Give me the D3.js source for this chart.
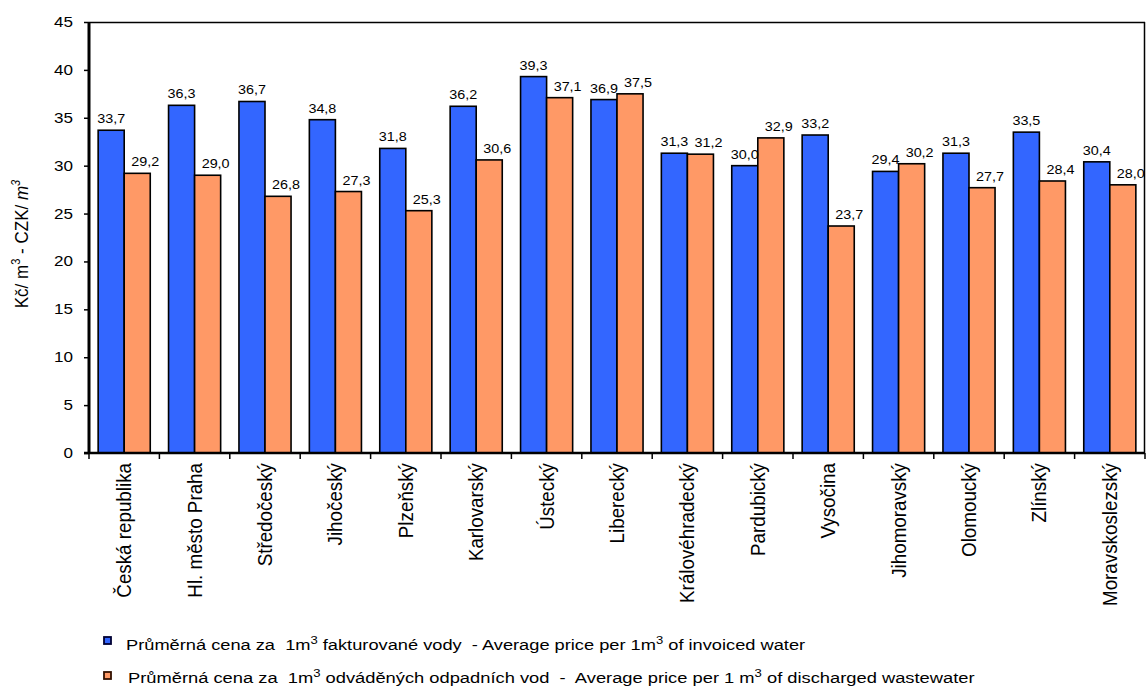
<!DOCTYPE html>
<html>
<head>
<meta charset="utf-8">
<script src="https://cdn.jsdelivr.net/npm/d3@7"></script>
<style>
  html, body { margin: 0; padding: 0; background: #fff; }
  svg { display: block; font-family: "Liberation Sans", Arial, sans-serif; }
  text { white-space: pre; }
</style>
</head>
<body>
<svg id="chart" width="1146" height="686"></svg>
<script>
// ---- data ----
const categories = ["Česká republika", "Hl. město Praha", "Středočeský", "Jihočeský", "Plzeňský",
  "Karlovarský", "Ústecký", "Liberecký", "Královéhradecký", "Pardubický", "Vysočina",
  "Jihomoravský", "Olomoucký", "Zlínský", "Moravskoslezský"];
const invoicedWater = [33.7, 36.3, 36.7, 34.8, 31.8, 36.2, 39.3, 36.9, 31.3, 30.0, 33.2, 29.4, 31.3, 33.5, 30.4];
const wasteWater = [29.2, 29.0, 26.8, 27.3, 25.3, 30.6, 37.1, 37.5, 31.2, 32.9, 23.7, 30.2, 27.7, 28.4, 28.0];
const seriesKeys = ["invoiced", "waste"];
const yTicks = [0, 5, 10, 15, 20, 25, 30, 35, 40, 45];

// ---- layout ----
const L = 89, R = 1145, T = 22, B = 453;
const colors = { invoiced: "#3366FF", waste: "#FF9966" };
const labelShift = { invoiced: 0, waste: 8 };

const svg = d3.select("#chart");
const fmt = d3.formatLocale({ decimal: ",", thousands: " ", grouping: [3], currency: ["", ""] }).format(".1f");

const x = d3.scaleBand().domain(categories).range([L, R]).paddingInner(0.26).paddingOuter(0.13);
const xs = d3.scaleBand().domain(seriesKeys).range([0, x.bandwidth()]);
const y = d3.scaleLinear().domain([0, 45]).range([B, T]);

const data = categories.map((c, i) => ({ cat: c, invoiced: invoicedWater[i], waste: wasteWater[i] }));

// plot frame (top/right thin)
svg.append("line").attr("x1", L).attr("x2", R).attr("y1", T + 0.5).attr("y2", T + 0.5)
  .attr("stroke", "#000").attr("stroke-width", 1.5);
svg.append("line").attr("x1", R - 0.5).attr("x2", R - 0.5).attr("y1", T).attr("y2", B)
  .attr("stroke", "#000").attr("stroke-width", 1.5);

// bars
const groups = svg.append("g").selectAll("g").data(data).join("g")
  .attr("transform", d => `translate(${x(d.cat)},0)`);
groups.selectAll("rect").data(d => seriesKeys.map(k => ({ key: k, value: d[k] }))).join("rect")
  .attr("x", d => xs(d.key))
  .attr("width", xs.bandwidth())
  .attr("y", d => y(d.value))
  .attr("height", d => B - y(d.value))
  .attr("fill", d => colors[d.key])
  .attr("stroke", "#000").attr("stroke-width", 1.6);

// value labels
groups.selectAll("text").data(d => seriesKeys.map(k => ({ key: k, value: d[k] }))).join("text")
  .attr("transform", d => `translate(${xs(d.key) + xs.bandwidth() / 2 + labelShift[d.key]},${y(d.value) - 7}) scale(1.15,1)`)
  .attr("text-anchor", "middle")
  .attr("font-size", 12.5)
  .attr("fill", "#000")
  .text(d => fmt(d.value));

// y axis
const yAxis = svg.append("g").attr("transform", `translate(${L},0)`)
  .call(d3.axisLeft(y).tickValues(yTicks).tickSize(5).tickSizeOuter(0).tickFormat(d3.format("d")));
yAxis.select(".domain").remove();
yAxis.selectAll(".tick line").attr("stroke", "#000").attr("stroke-width", 1.5);
yAxis.selectAll(".tick text")
  .attr("x", 0)
  .attr("transform", "translate(-16,0) scale(1.22,1)")
  .attr("font-size", 14).attr("fill", "#000")
  .attr("font-family", "Liberation Sans, Arial, sans-serif");
svg.append("line").attr("x1", L).attr("x2", L).attr("y1", T).attr("y2", B + 1)
  .attr("stroke", "#000").attr("stroke-width", 3);

// x axis: line, boundary ticks, rotated labels
svg.append("line").attr("x1", L - 5).attr("x2", R).attr("y1", B).attr("y2", B)
  .attr("stroke", "#000").attr("stroke-width", 2.5);
const bounds = d3.range(categories.length + 1).map(i => x.range()[0] + i * x.step());
svg.append("g").selectAll("line").data(bounds).join("line")
  .attr("x1", d => d).attr("x2", d => d).attr("y1", B).attr("y2", B + 6)
  .attr("stroke", "#000").attr("stroke-width", 1.5);
svg.append("g").selectAll("text").data(categories).join("text")
  .attr("transform", d => `translate(${x(d) + x.bandwidth() / 2},463) rotate(-90) scale(0.94,1)`)
  .attr("text-anchor", "end")
  .attr("dy", "0.35em")
  .attr("font-size", 20)
  .attr("fill", "#000")
  .text(d => d);

// y title
const yt = svg.append("text")
  .attr("transform", "translate(28,244) rotate(-90) scale(0.92,1)")
  .attr("text-anchor", "middle").attr("font-size", 18.5).attr("fill", "#000");
yt.append("tspan").text("Kč/ m");
yt.append("tspan").attr("dy", -8).attr("font-size", 12).text("3");
yt.append("tspan").attr("dy", 8).text(" - CZK/ ");
yt.append("tspan").attr("font-style", "italic").text("m");
yt.append("tspan").attr("dy", -8).attr("font-size", 12).attr("font-style", "italic").text("3");

// legend
const legendItems = [
  { key: "invoiced", parts: ["Průměrná cena za  1m", "3", " fakturované vody  - Average price per 1m", "3", " of invoiced water"], tx: 126, by: 650, width: 679, my: 637 },
  { key: "waste", parts: ["Průměrná cena za  1m", "3", " odváděných odpadních vod  -  Average price per 1 m", "3", " of discharged wastewater"], tx: 128, by: 683, width: 847, my: 672 }
];
const lg = svg.append("g");
legendItems.forEach(it => {
  lg.append("rect").attr("x", 104).attr("y", it.my).attr("width", 7).attr("height", 7)
    .attr("fill", colors[it.key]).attr("stroke", it.key === "invoiced" ? "#000033" : "#331100").attr("stroke-width", 1.8);
  const t = lg.append("text").attr("font-size", 15.4).attr("fill", "#000");
  it.parts.forEach((p, i) => {
    const sup = i % 2 === 1;
    t.append("tspan").attr("dy", i === 0 ? 0 : (sup ? -6 : 6)).attr("font-size", sup ? 11 : null).text(p);
  });
  const w = t.node().getBBox().width;
  t.attr("transform", `translate(${it.tx},${it.by}) scale(${it.width / w},1)`);
});
</script>
</body>
</html>
